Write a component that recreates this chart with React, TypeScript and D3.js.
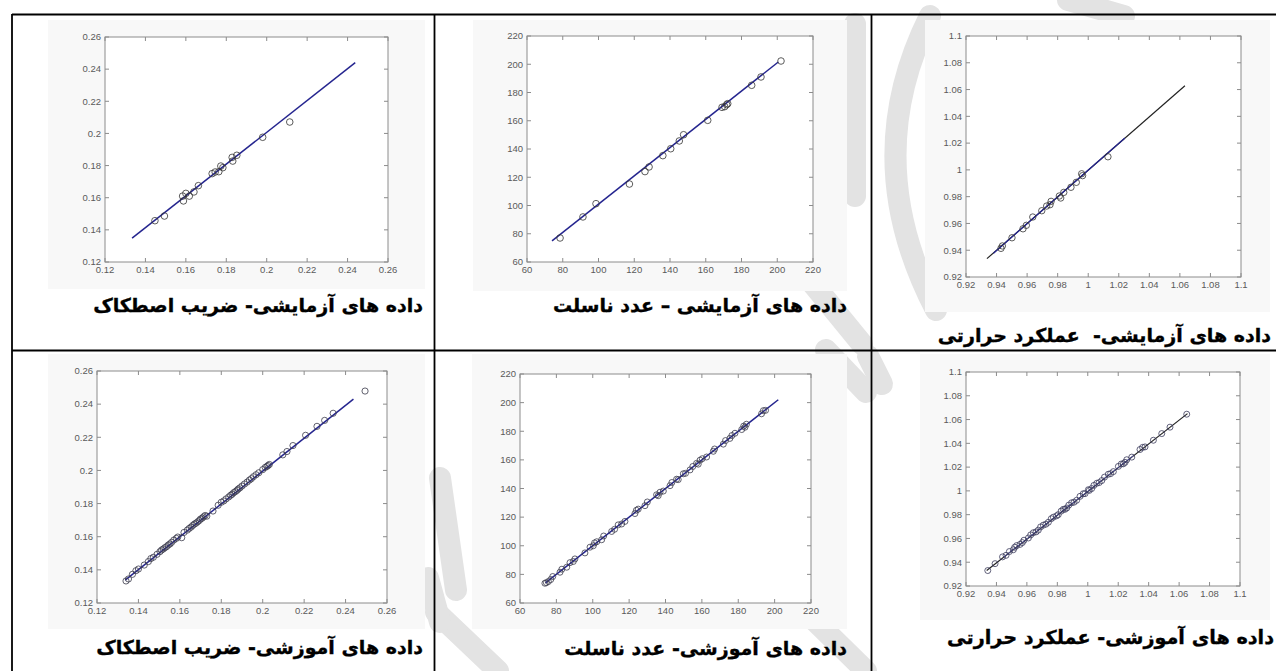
import React from 'react';
import * as d3 from 'd3';

// ---------- tick values ----------
const frictionTicks = [0.12, 0.14, 0.16, 0.18, 0.2, 0.22, 0.24, 0.26];
const nusseltTicks = [60, 80, 100, 120, 140, 160, 180, 200, 220];
const thermalTicks = [0.92, 0.94, 0.96, 0.98, 1, 1.02, 1.04, 1.06, 1.08, 1.1];

// ---------- captions ----------
const captions = [
  'داده های آزمایشی- ضریب اصطکاک',
  'داده های آزمایشی – عدد ناسلت',
  'داده های آزمایشی-  عملکرد حرارتی',
  'داده های آموزشی- ضریب اصطکاک',
  'داده های آموزشی- عدد ناسلت',
  'داده های آموزشی- عملکرد حرارتی',
];

// ---------- test data (target, predicted) ----------
const frictionTest: [number, number][] = [
  [0.1447, 0.1457], [0.1494, 0.1486], [0.1584, 0.161], [0.1588, 0.158], [0.16, 0.1627],
  [0.1617, 0.161], [0.164, 0.1636], [0.1662, 0.1675], [0.173, 0.175], [0.1745, 0.176],
  [0.1763, 0.1762], [0.1773, 0.1797], [0.1783, 0.1787], [0.1829, 0.1851], [0.1832, 0.1828],
  [0.1852, 0.1864], [0.198, 0.1976], [0.2114, 0.2071],
];
const frictionTestLine: [number, number][] = [[0.1334, 0.1348], [0.2438, 0.244]];

const nusseltTest: [number, number][] = [
  [78.5, 77], [91.3, 91.9], [98.6, 101.3], [117.3, 115.2], [126, 124], [128.3, 127.3],
  [136, 135.3], [140.4, 140.2], [145.2, 145.7], [147.6, 150.1], [161.1, 160.3],
  [169.1, 169.5], [170.6, 170], [171.7, 171.4], [172.3, 172.1], [185.7, 185.1],
  [190.9, 191], [202.1, 202.3],
];
const nusseltTestLine: [number, number][] = [[74, 74.9], [200.6, 201.6]];

const thermalTest: [number, number][] = [
  [0.9429, 0.9414], [0.9438, 0.9432], [0.9501, 0.9493], [0.9573, 0.956], [0.9595, 0.9586],
  [0.9637, 0.9648], [0.9696, 0.9695], [0.9728, 0.973], [0.975, 0.974], [0.9757, 0.9765],
  [0.9811, 0.9805], [0.982, 0.979], [0.984, 0.9832], [0.9887, 0.987], [0.9922, 0.9907],
  [0.9957, 0.9971], [0.9963, 0.9957], [1.0129, 1.0098],
];
const thermalTestLine: [number, number][] = [[0.9337, 0.9337], [1.0633, 1.0628]];
const thermalTestFit: [number, number][] = [[0.938, 0.9378], [1.024, 1.0238]];

// ---------- training data (target, predicted) ----------
const frictionTrain: [number, number][] = [
  [0.134, 0.1333], [0.1352, 0.1345], [0.1371, 0.1373], [0.1388, 0.1395], [0.14, 0.1405],
  [0.1428, 0.1429], [0.1448, 0.145], [0.146, 0.1468], [0.1472, 0.1476], [0.149, 0.1494],
  [0.1504, 0.151], [0.1512, 0.152], [0.152, 0.1526], [0.1528, 0.1534], [0.1536, 0.154],
  [0.1544, 0.155], [0.1552, 0.1556], [0.156, 0.1566], [0.1571, 0.158], [0.1583, 0.159],
  [0.159, 0.1598], [0.1609, 0.1594], [0.162, 0.1626], [0.1636, 0.164], [0.1645, 0.165],
  [0.1654, 0.1658], [0.1662, 0.1668], [0.167, 0.1676], [0.1678, 0.1682], [0.1686, 0.169],
  [0.1694, 0.1698], [0.17, 0.1707], [0.1708, 0.1712], [0.1714, 0.172], [0.1722, 0.1728],
  [0.173, 0.1724], [0.176, 0.1755], [0.1785, 0.179], [0.18, 0.1808], [0.1812, 0.1816],
  [0.1823, 0.1828], [0.1836, 0.184], [0.1845, 0.185], [0.1852, 0.1856], [0.186, 0.1866],
  [0.1868, 0.1872], [0.1876, 0.188], [0.1882, 0.1888], [0.189, 0.1895], [0.19, 0.1906],
  [0.1912, 0.1918], [0.1925, 0.193], [0.1936, 0.1942], [0.1945, 0.195], [0.1955, 0.1962],
  [0.1968, 0.1974], [0.1981, 0.1986], [0.2, 0.2005], [0.2012, 0.2018], [0.202, 0.2024],
  [0.2026, 0.203], [0.2032, 0.2036], [0.2097, 0.2094], [0.2117, 0.2114], [0.2146, 0.215],
  [0.2207, 0.2212], [0.2262, 0.2266], [0.2299, 0.2302], [0.234, 0.2345], [0.2494, 0.2479],
];
const frictionTrainLine: [number, number][] = [[0.1336, 0.1338], [0.2438, 0.243]];

const nusseltTrain: [number, number][] = [
  [73.7, 73.8], [74.5, 74.2], [75.6, 75], [76.9, 76.4], [78, 78.5], [82, 81.5], [83, 83.6],
  [85.7, 85], [87.5, 88.2], [89.3, 89], [90.2, 90.8], [95.7, 95], [98.5, 99], [100.3, 100],
  [101, 102], [102.2, 102.8], [104.9, 104.2], [106, 106.8], [110.4, 110], [112, 111.5],
  [114, 114.6], [115.9, 115.2], [117.7, 117], [123.2, 122.5], [124, 124.8], [125, 125.6],
  [128.7, 128], [130, 130.6], [135.1, 135.6], [136, 135], [137, 137.4], [138.8, 138.2],
  [142.5, 142], [143.5, 144.2], [146.1, 146.5], [147, 146.2], [149.8, 150.3], [151, 150.6],
  [153.5, 153], [155, 155.4], [157.1, 157.6], [158, 157], [159, 159.8], [160.2, 160.8],
  [162.6, 162], [166.3, 166], [167, 167.6], [171.8, 171], [173, 173.5], [175.4, 175],
  [176.5, 177], [178.2, 178.6], [181.9, 181.2], [183, 183.6], [183.7, 182.8], [184.5, 184.9],
  [192.8, 192.2], [193.8, 194.4], [195, 194.6],
];
const nusseltTrainLine: [number, number][] = [[74, 74], [202, 202]];

const thermalTrain: [number, number][] = [
  [0.9343, 0.933], [0.9391, 0.9388], [0.9463, 0.9458], [0.9485, 0.949], [0.9511, 0.9505],
  [0.9533, 0.954], [0.9555, 0.955], [0.9581, 0.9585], [0.961, 0.9604], [0.9642, 0.9648],
  [0.9675, 0.967], [0.9708, 0.9712], [0.9741, 0.9736], [0.9774, 0.9779], [0.9806, 0.98],
  [0.9839, 0.9845], [0.9862, 0.9856], [0.9894, 0.99], [0.9927, 0.9921], [0.9949, 0.9954],
  [0.9982, 0.9977], [1.0004, 1.001], [1.0026, 1.002], [1.0059, 1.0064], [1.0092, 1.0087],
  [1.0135, 1.014], [1.0168, 1.0162], [1.0201, 1.0206], [1.0234, 1.0228], [1.0256, 1.0262],
  [1.0289, 1.0284], [1.0343, 1.0348], [1.0376, 1.037], [1.0431, 1.0426], [1.0486, 1.0482],
  [1.054, 1.0536], [1.065, 1.0645],
  [0.944, 0.9445], [0.952, 0.9526], [0.957, 0.9565], [0.9625, 0.963], [0.966, 0.9655],
  [0.969, 0.9697], [0.9725, 0.972], [0.976, 0.9766], [0.9795, 0.979], [0.9825, 0.983],
  [0.985, 0.9845], [0.9875, 0.988], [0.991, 0.9905], [0.997, 0.9976], [1.001, 1.0004],
  [1.004, 1.0046], [1.0075, 1.007], [1.011, 1.0116], [1.015, 1.0145], [1.022, 1.0226],
  [1.0245, 1.024], [1.036, 1.0366],
];
const thermalTrainLine: [number, number][] = [[0.9336, 0.933], [1.0655, 1.065]];
const thermalTrainFit: [number, number][] = [[0.945, 0.9446], [1.03, 1.0297]];

// ---------- layout ----------
type Box = { x0: number; x1: number; y0: number; y1: number };
type Seg = { pts: [number, number][]; color: string; width: number };
type PanelSpec = {
  box: Box;
  ticks: number[];
  points: [number, number][];
  lines: Seg[];
  r: number;
  marker: string;
  img: Box;
  caption: string;
  capX: number;
  capY: number;
  capSize: number;
};

const BLUE = '#25258f';

const panels: PanelSpec[] = [
  {
    box: { x0: 105, x1: 388, y0: 37, y1: 262 }, ticks: frictionTicks, points: frictionTest,
    lines: [{ pts: frictionTestLine, color: BLUE, width: 1.5 }], r: 3.3, marker: '#333',
    img: { x0: 48, x1: 425, y0: 20, y1: 289 }, caption: captions[0], capX: 423, capY: 305, capSize: 19,
  },
  {
    box: { x0: 527, x1: 813, y0: 36, y1: 262 }, ticks: nusseltTicks, points: nusseltTest,
    lines: [{ pts: nusseltTestLine, color: BLUE, width: 1.5 }], r: 3.3, marker: '#333',
    img: { x0: 473, x1: 847, y0: 20, y1: 291 }, caption: captions[1], capX: 847, capY: 305, capSize: 19,
  },
  {
    box: { x0: 966, x1: 1241, y0: 36, y1: 277 }, ticks: thermalTicks, points: thermalTest,
    lines: [
      { pts: thermalTestLine, color: '#222', width: 1.2 },
      { pts: thermalTestFit, color: BLUE, width: 1.3 },
    ], r: 3.2, marker: '#333',
    img: { x0: 925, x1: 1270, y0: 20, y1: 312 }, caption: captions[2], capX: 1271, capY: 335, capSize: 19,
  },
  {
    box: { x0: 97, x1: 387, y0: 371, y1: 603 }, ticks: frictionTicks, points: frictionTrain,
    lines: [{ pts: frictionTrainLine, color: BLUE, width: 1.5 }], r: 3.1, marker: '#3a3a4a',
    img: { x0: 48, x1: 425, y0: 354, y1: 629 }, caption: captions[3], capX: 423, capY: 647, capSize: 19,
  },
  {
    box: { x0: 520, x1: 811, y0: 374, y1: 603 }, ticks: nusseltTicks, points: nusseltTrain,
    lines: [{ pts: nusseltTrainLine, color: BLUE, width: 1.5 }], r: 3.0, marker: '#3a3a4a',
    img: { x0: 472, x1: 847, y0: 354, y1: 629 }, caption: captions[4], capX: 847, capY: 648, capSize: 19,
  },
  {
    box: { x0: 966, x1: 1240, y0: 372, y1: 586 }, ticks: thermalTicks, points: thermalTrain,
    lines: [
      { pts: thermalTrainLine, color: '#222', width: 1.2 },
      { pts: thermalTrainFit, color: '#4a4aa0', width: 1.0 },
    ], r: 3.0, marker: '#3a3a5a',
    img: { x0: 920, x1: 1270, y0: 354, y1: 620 }, caption: captions[5], capX: 1274, capY: 637, capSize: 19.2,
  },
];

const fmt = (v: number) => String(+v.toFixed(2));

function Panel({ p }: { p: PanelSpec }) {
  const { box, ticks } = p;
  const dom = d3.extent(ticks) as [number, number];
  const x = d3.scaleLinear().domain(dom).range([box.x0, box.x1]);
  const y = d3.scaleLinear().domain(dom).range([box.y1, box.y0]);
  const line = d3.line<[number, number]>().x((d) => x(d[0])).y((d) => y(d[1]));
  const tl = 4;
  const axisColor = '#8c8c8c';
  const labelColor = '#5a5a5a';
  return (
    <g>
      <rect x={p.img.x0} y={p.img.y0} width={p.img.x1 - p.img.x0} height={p.img.y1 - p.img.y0} fill="#f8f8f8" />
      <rect x={box.x0} y={box.y0} width={box.x1 - box.x0} height={box.y1 - box.y0} fill="#fff" stroke={axisColor} strokeWidth={1} />
      {ticks.map((t, i) => (
        <g key={'t' + i} stroke={axisColor} strokeWidth={1}>
          <line x1={x(t)} x2={x(t)} y1={box.y1} y2={box.y1 - tl} />
          <line x1={x(t)} x2={x(t)} y1={box.y0} y2={box.y0 + tl} />
          <line x1={box.x0} x2={box.x0 + tl} y1={y(t)} y2={y(t)} />
          <line x1={box.x1} x2={box.x1 - tl} y1={y(t)} y2={y(t)} />
        </g>
      ))}
      {ticks.map((t, i) => (
        <text key={'xl' + i} x={x(t)} y={box.y1 + 11} textAnchor="middle" fontSize={9.5}
          fontFamily="'Liberation Sans', Arial, sans-serif" fill={labelColor}>{fmt(t)}</text>
      ))}
      {ticks.map((t, i) => (
        <text key={'yl' + i} x={box.x0 - 4} y={y(t) + 3.3} textAnchor="end" fontSize={9.5}
          fontFamily="'Liberation Sans', Arial, sans-serif" fill={labelColor}>{fmt(t)}</text>
      ))}
      {p.lines.map((s, i) => (
        <path key={'l' + i} d={line(s.pts) || ''} stroke={s.color} strokeWidth={s.width} fill="none" />
      ))}
      {p.points.map((d, i) => (
        <circle key={'c' + i} cx={x(d[0])} cy={y(d[1])} r={p.r} fill="none" stroke={p.marker} strokeWidth={0.8} />
      ))}
      <text x={p.capX} y={p.capY + 6.5} direction="rtl" textAnchor="start" fontSize={p.capSize} fontWeight="bold"
        fontFamily="'DejaVu Sans', sans-serif" fill="#000" stroke="#000" strokeWidth={0.35}
        style={{ whiteSpace: 'pre' }}>{p.caption}</text>
    </g>
  );
}

// decorative faint watermark strokes (not data)
const watermark = [
  'M 930 16 Q 858 160 936 310',
  'M 1068 0 L 1124 16',
  'M 855 24 L 855 196',
  'M 800 268 L 862 344',
  'M 440 478 L 456 590',
  'M 436 612 L 498 671',
  'M 812 618 L 866 671',
  'M 826 350 L 866 392',
  'M 428 578 L 440 622',
  'M 868 356 L 882 384',
];

export default function App() {
  return (
    <svg width={1276} height={671} style={{ position: 'absolute', left: 0, top: 0, background: '#fff' }}>
      <rect x={0} y={0} width={1276} height={671} fill="#fff" />
      <g stroke="#e3e3e3" strokeWidth={22} strokeLinecap="round" fill="none">
        {watermark.map((d, i) => <path key={i} d={d} />)}
      </g>
      {panels.map((p, i) => <Panel key={i} p={p} />)}
      <g stroke="#000" strokeWidth={1.8}>
        <line x1={12} x2={1276} y1={14.5} y2={14.5} />
        <line x1={12} x2={1276} y1={350.5} y2={350.5} />
        <line x1={12} x2={12} y1={14} y2={671} />
        <line x1={434.5} x2={434.5} y1={14} y2={671} />
        <line x1={871.5} x2={871.5} y1={14} y2={671} />
      </g>
    </svg>
  );
}
